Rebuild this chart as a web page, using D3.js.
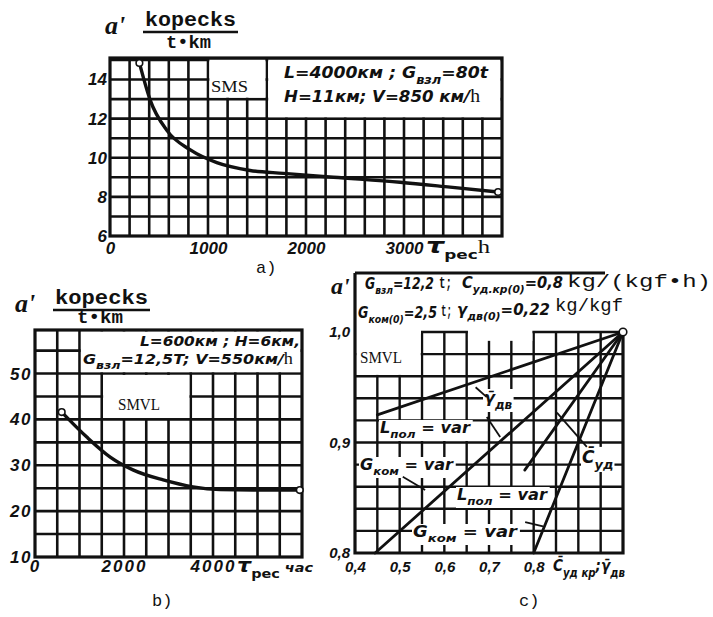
<!DOCTYPE html>
<html>
<head>
<meta charset="utf-8">
<script src="https://cdn.jsdelivr.net/npm/d3@7"></script>
<style>
  html, body { margin: 0; padding: 0; background: #fff; }
  svg { display: block; }
</style>
</head>
<body>
<svg id="fig" width="713" height="617"></svg>
<script>
// ---------------- data ----------------
// a) SMS: cost per tonne-km versus operating hours
const tauA  = [300, 410, 580, 820, 1090, 1430, 1770, 2280, 2960, 3470, 3960];
const costA = [14.85, 12.95, 11.4, 10.4, 9.75, 9.35, 9.2, 9.0, 8.75, 8.5, 8.25];
const xTicksA = [0, 1000, 2000, 3000];
const yTicksA = [6, 8, 10, 12, 14];

// b) SMVL: cost per tonne-km versus operating hours
const tauB  = [600, 1170, 1690, 2200, 2880, 3550, 4160, 4900, 5950];
const costB = [41.6, 36.1, 31.8, 29.0, 26.8, 25.3, 24.7, 24.6, 24.6];
const xTicksB = [0, 2000, 4000];
const yTicksB = [10, 20, 30, 40, 50];

// c) relative cost versus relative engine parameters (all lines meet at 1,0 ; 1,0)
const relSeries = ["γдв, Lпол", "γдв, Gком", "Cуд, Lпол", "Cуд, Gком"];
const relFromX  = [0.45, 0.445, 0.78, 0.80];
const relFromY  = [0.925, 0.80, 0.875, 0.80];
const relToX    = [1.0, 1.0, 1.0, 1.0];
const relToY    = [1.0, 1.0, 1.0, 1.0];
const xTicksC = [0.4, 0.5, 0.6, 0.7, 0.8];
const yTicksC = [0.8, 0.9, 1.0];

// ---------------- helpers ----------------
const INK = "#111";
const HAND = "DejaVu Sans";
const NUM = "Liberation Sans";
const MONO = "Liberation Mono";
const SERIF = "Liberation Serif";

const svg = d3.select("#fig");
svg.append("rect").attr("width", 713).attr("height", 617).attr("fill", "#fff");

function label(parent, x, y, parts, o = {}) {
  const size = o.size || 16;
  const t = parent.append("text")
    .attr("x", x).attr("y", y)
    .attr("font-family", o.family || HAND)
    .attr("font-size", size)
    .attr("font-weight", o.weight || "bold")
    .attr("font-style", o.style || "italic")
    .attr("fill", INK);
  let shift = 0;
  (typeof parts === "string" ? [{ t: parts }] : parts).forEach(p => {
    const off = p.sub ? Math.round(size * 0.35) : (p.sup ? -Math.round(size * 0.3) : 0);
    const s = t.append("tspan").text(p.t);
    if (off - shift) s.attr("dy", off - shift);
    shift = off;
    if (p.sub || p.sup) s.attr("font-size", Math.round(size * 0.75));
    if (p.family) s.attr("font-family", p.family);
    if (p.weight) s.attr("font-weight", p.weight);
    if (p.style) s.attr("font-style", p.style);
    if (p.size) s.attr("font-size", p.size);
  });
  if (o.width) t.attr("textLength", o.width).attr("lengthAdjust", "spacingAndGlyphs");
  if (o.anchor) t.attr("text-anchor", o.anchor);
  return t;
}

function backdrop(layer, t, pad = 2) {
  const b = t.node().getBBox();
  layer.append("rect")
    .attr("x", b.x - pad).attr("y", b.y + 1)
    .attr("width", b.width + 2 * pad).attr("height", b.height - 1)
    .attr("fill", "#fff");
}

function styleAxis(g, size, spacing) {
  g.select(".domain").remove();
  g.selectAll(".tick line").remove();
  g.attr("font-family", null).attr("font-size", null);
  g.selectAll("text")
    .attr("font-family", NUM).attr("font-weight", "bold").attr("font-style", "italic")
    .attr("font-size", size).attr("fill", INK)
    .attr("letter-spacing", spacing || 0);
}

function drawGrid(g, x, y, xs, ys, w) {
  const [y0, y1] = y.range();
  const [x0, x1] = x.range();
  g.selectAll(null).data(xs).join("line")
    .attr("x1", d => x(d)).attr("x2", d => x(d)).attr("y1", y0).attr("y2", y1)
    .attr("stroke", INK).attr("stroke-width", w);
  g.selectAll(null).data(ys).join("line")
    .attr("y1", d => y(d)).attr("y2", d => y(d)).attr("x1", x0).attr("x2", x1)
    .attr("stroke", INK).attr("stroke-width", w);
}

function maskCells(g, x, y, xa, xb, ya, yb, inset) {
  g.append("rect")
    .attr("x", x(xa) + inset).attr("y", y(yb) + inset)
    .attr("width", x(xb) - x(xa) - 2 * inset).attr("height", y(ya) - y(yb) - 2 * inset)
    .attr("fill", "#fff");
}

function unitTitle(x, y, wTop, wBot, xBot, yBot) {
  label(svg, x - 40, y + 8, "a'", { family: SERIF, size: 26 });
  label(svg, x, y, "kopecks", { family: MONO, size: 20, style: "normal", width: wTop });
  svg.append("line").attr("x1", x - 2).attr("x2", x + wTop + 2)
    .attr("y1", y + 6).attr("y2", y + 6).attr("stroke", INK).attr("stroke-width", 2.4);
  label(svg, xBot, yBot, "t•km", { family: MONO, size: 18, style: "normal", width: wBot });
}

// ---------------- panel a ----------------
{
  const x = d3.scaleLinear().domain([0, 4000]).range([110, 502]);
  const y = d3.scaleLinear().domain([6, 15.1]).range([236, 58]);
  const g = svg.append("g");

  drawGrid(g, x, y, d3.range(200, 4000, 200), d3.range(7, 15.5, 1), 2.6);
  maskCells(g, x, y, 1000, 1600, 13, 15.1, 1.4);
  maskCells(g, x, y, 1600, 4000, 12, 15.1, 1.4);
  g.append("rect").attr("x", 110).attr("y", 58).attr("width", 392).attr("height", 178)
    .attr("fill", "none").attr("stroke", INK).attr("stroke-width", 3.2);

  const line = d3.line().x((d, i) => x(tauA[i])).y((d, i) => y(costA[i])).curve(d3.curveMonotoneX);
  g.append("path").datum(costA).attr("d", line)
    .attr("fill", "none").attr("stroke", INK).attr("stroke-width", 3.4).attr("stroke-linecap", "round");
  g.selectAll(null).data([0, tauA.length - 1]).join("circle")
    .attr("cx", i => x(tauA[i])).attr("cy", i => y(costA[i])).attr("r", 3.3)
    .attr("fill", "#fff").attr("stroke", INK).attr("stroke-width", 1.6);

  svg.append("g").attr("transform", "translate(0,236)")
    .call(d3.axisBottom(x).tickValues(xTicksA).tickSize(0).tickPadding(6).tickFormat(d3.format("d")))
    .call(a => styleAxis(a, 17));
  svg.append("g").attr("transform", "translate(110,0)")
    .call(d3.axisLeft(y).tickValues(yTicksA).tickSize(0).tickPadding(3).tickFormat(d3.format("d")))
    .call(a => styleAxis(a, 17));

  unitTitle(145, 26, 91, 45, 166, 48);
  label(svg, 211, 92, "SMS", { family: SERIF, size: 17, weight: "normal", style: "normal", width: 37 });
  label(svg, 284, 78, [{ t: "L=4000км ; G" }, { t: "взл", sub: true }, { t: "=80t" }], { size: 16, width: 204 });
  label(svg, 284, 102, [{ t: "H=11км; V=850 км/" }, { t: "h", family: SERIF, weight: "normal", style: "normal", size: 19 }], { size: 16, width: 196 });
  label(svg, 426, 253, [{ t: "τ", size: 22 }, { t: "рес", sub: true, style: "normal" }, { t: "h", family: SERIF, weight: "normal", style: "normal", size: 19 }], { size: 17, width: 64 });
  label(svg, 256, 273, "a)", { family: MONO, size: 17, weight: "normal", style: "normal" });
}

// ---------------- panel b ----------------
{
  const x = d3.scaleLinear().domain([0, 6000]).range([35, 302]);
  const y = d3.scaleLinear().domain([10, 59.5]).range([557, 330]);
  const g = svg.append("g");

  drawGrid(g, x, y, d3.range(500, 6000, 500), d3.range(15, 59, 5), 2.6);
  maskCells(g, x, y, 1000, 6000, 50, 59.5, 1.4);
  maskCells(g, x, y, 1500, 3500, 40, 50, 1.4);
  g.append("rect").attr("x", 35).attr("y", 330).attr("width", 267).attr("height", 227)
    .attr("fill", "none").attr("stroke", INK).attr("stroke-width", 3.2);

  const line = d3.line().x((d, i) => x(tauB[i])).y((d, i) => y(costB[i])).curve(d3.curveMonotoneX);
  g.append("path").datum(costB).attr("d", line)
    .attr("fill", "none").attr("stroke", INK).attr("stroke-width", 3.4).attr("stroke-linecap", "round");
  g.selectAll(null).data([0, tauB.length - 1]).join("circle")
    .attr("cx", i => x(tauB[i])).attr("cy", i => y(costB[i])).attr("r", 3.3)
    .attr("fill", "#fff").attr("stroke", INK).attr("stroke-width", 1.6);

  svg.append("g").attr("transform", "translate(0,557)")
    .call(d3.axisBottom(x).tickValues(xTicksB).tickSize(0).tickPadding(3).tickFormat(d3.format("d")))
    .call(a => styleAxis(a, 17, 2));
  svg.append("g").attr("transform", "translate(35,0)")
    .call(d3.axisLeft(y).tickValues(yTicksB).tickSize(0).tickPadding(3).tickFormat(d3.format("d")))
    .call(a => styleAxis(a, 17, 1.5));

  unitTitle(55, 304, 93, 46, 77, 323);
  label(svg, 140, 346, "L=600км ; H=6км,", { size: 14, width: 160 });
  label(svg, 83, 364, [{ t: "G" }, { t: "взл", sub: true }, { t: "=12,5T; V=550км/" }, { t: "h", family: SERIF, weight: "normal", style: "normal", size: 16 }], { size: 14, width: 210 });
  label(svg, 118, 410, "SMVL", { family: SERIF, size: 16, weight: "normal", style: "normal", width: 42 });
  label(svg, 237, 572, [{ t: "τ", size: 20 }, { t: "рес", sub: true, style: "normal" }, { t: " час", size: 13 }], { size: 17, width: 76 });
  label(svg, 152, 606, "b)", { family: MONO, size: 17, weight: "normal", style: "normal" });
}

// ---------------- panel c ----------------
{
  const x = d3.scaleLinear().domain([0.4, 1.0]).range([355, 623]);
  const y = d3.scaleLinear().domain([0.8, 1.0]).range([553, 332]);
  const gridL = svg.append("g");
  const maskL = svg.append("g");
  const lineL = svg.append("g");
  const textL = svg.append("g");

  drawGrid(gridL, x, y, d3.range(0.45, 0.999, 0.05), d3.range(0.82, 1.001, 0.02), 2.4);
  maskCells(maskL, x, y, 0.4, 0.55, 0.96, 1.0, 1.3);
  maskL.append("rect").attr("x", x(0.4) + 1).attr("y", y(1.0) - 2)
    .attr("width", x(0.55) - x(0.4) - 2).attr("height", 4).attr("fill", "#fff");
  maskL.append("rect").attr("x", x(0.65) + 1.3).attr("y", y(1.0) - 2)
    .attr("width", x(0.8) - x(0.65) - 2.6).attr("height", y(0.992) - y(1.0) + 2).attr("fill", "#fff");

  // frame: open at the upper right, where the heading runs past it
  const frame = [[355, 273], [355, 553], [623, 553], [623, 332]];
  lineL.append("path").attr("d", d3.line()(frame))
    .attr("fill", "none").attr("stroke", INK).attr("stroke-width", 3.2);
  lineL.append("line").attr("x1", 355).attr("x2", 605).attr("y1", 273).attr("y2", 273)
    .attr("stroke", INK).attr("stroke-width", 2.8);

  lineL.selectAll(null).data(relSeries).join("line")
    .attr("x1", (d, i) => x(relFromX[i])).attr("y1", (d, i) => y(relFromY[i]))
    .attr("x2", (d, i) => x(relToX[i])).attr("y2", (d, i) => y(relToY[i]))
    .attr("stroke", INK).attr("stroke-width", 2.8).attr("stroke-linecap", "round");
  lineL.append("circle").attr("cx", x(relToX[0])).attr("cy", y(relToY[0])).attr("r", 3.8)
    .attr("fill", "#fff").attr("stroke", INK).attr("stroke-width", 1.6);

  // leader strokes tying the notes to their lines
  const leaders = [
    [[0.67, 0.95], [0.695, 0.941]],
    [[0.695, 0.923], [0.725, 0.905]],
    [[0.507, 0.869], [0.557, 0.857]],
    [[0.852, 0.927], [0.919, 0.896]],
    [[0.781, 0.828], [0.821, 0.824]]
  ];
  lineL.selectAll(null).data(leaders).join("line")
    .attr("x1", d => x(d[0][0])).attr("y1", d => y(d[0][1]))
    .attr("x2", d => x(d[1][0])).attr("y2", d => y(d[1][1]))
    .attr("stroke", INK).attr("stroke-width", 1.8);

  const fmt = v => d3.format(".1f")(v).replace(".", ",");
  svg.append("g").attr("transform", "translate(0,553)")
    .call(d3.axisBottom(x).tickValues(xTicksC).tickSize(0).tickPadding(8).tickFormat(fmt))
    .call(a => styleAxis(a, 15));
  svg.append("g").attr("transform", "translate(355,0)")
    .call(d3.axisLeft(y).tickValues(yTicksC).tickSize(0).tickPadding(5).tickFormat(fmt))
    .call(a => styleAxis(a, 15));

  label(svg, 331, 294, "a'", { family: SERIF, size: 24 });

  // heading: initial values, two lines
  label(textL, 365, 289, [{ t: "G" }, { t: "взл", sub: true }, { t: "=12,2" }], { size: 15, width: 69 });
  label(textL, 439, 288, "t;", { family: MONO, size: 17, style: "normal", width: 13 });
  label(textL, 462, 288, [{ t: "C" }, { t: "уд.кр(0)", sub: true }, { t: "=0,8" }], { size: 15, width: 101 });
  label(textL, 567, 287, "kg/(kgf•h)", { family: MONO, size: 19, weight: "normal", style: "normal", width: 144 });
  label(textL, 358, 318, [{ t: "G" }, { t: "ком(0)", sub: true }, { t: "=2,5" }], { size: 15, width: 79 });
  label(textL, 441, 316, "t;", { family: MONO, size: 17, style: "normal", width: 11 });
  label(textL, 457, 315, [{ t: "γ" }, { t: "дв(0)", sub: true }, { t: "=0,22" }], { size: 15, width: 93 });
  label(textL, 555, 311, "kg/kgf", { family: MONO, size: 19, weight: "normal", style: "normal", width: 68 });

  label(textL, 360, 363, "SMVL", { family: SERIF, size: 16, weight: "normal", style: "normal", width: 42 });

  const notes = [
    label(textL, 484, 403, [{ t: "γ\u0304" }, { t: "дв", sub: true }], { size: 16 }),
    label(textL, 380, 433, [{ t: "L" }, { t: "пол", sub: true }, { t: " = var" }], { size: 15, width: 90 }),
    label(textL, 360, 470, [{ t: "G" }, { t: "ком", sub: true }, { t: " = var" }], { size: 15, width: 93 }),
    label(textL, 582, 463, [{ t: "C\u0304" }, { t: "уд", sub: true }], { size: 17 }),
    label(textL, 457, 500, [{ t: "L" }, { t: "пол", sub: true }, { t: " = var" }], { size: 15, width: 90 }),
    label(textL, 413, 537, [{ t: "G" }, { t: "ком", sub: true }, { t: " = var" }], { size: 15, width: 104 })
  ];
  notes.forEach(t => backdrop(maskL, t, 1));

  label(svg, 553, 571, [{ t: "C\u0304" }, { t: "уд кр", sub: true }, { t: ";" }, { t: "γ\u0304" }, { t: "дв", sub: true }], { size: 16, width: 72 });
  label(svg, 519, 606, "c)", { family: MONO, size: 17, weight: "normal", style: "normal" });
}
</script>
</body>
</html>
